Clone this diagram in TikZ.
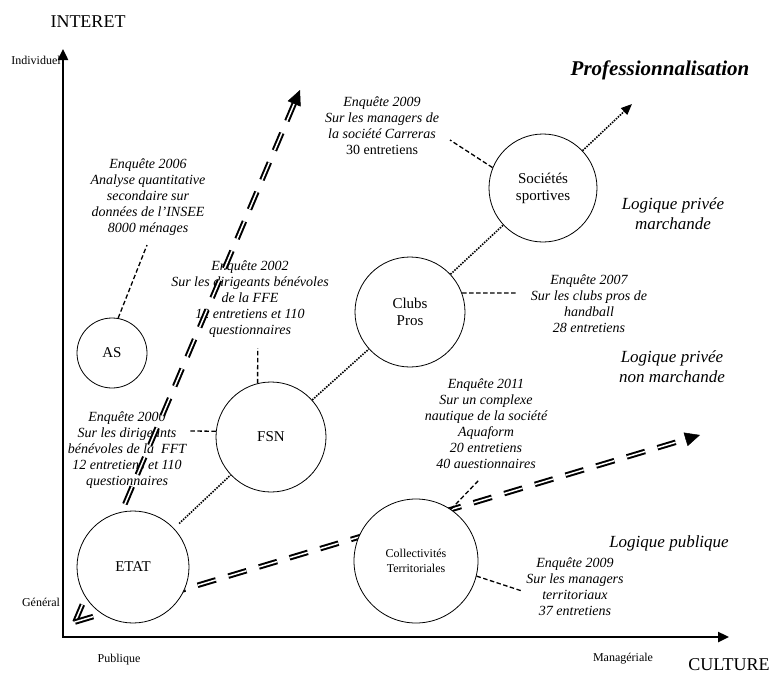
\documentclass[tikz,border=0pt]{standalone}
\usepackage{fontspec}
\setmainfont{Liberation Serif}
\usetikzlibrary{arrows.meta,calc}
\pgfdeclarelayer{txt}
\pgfdeclarelayer{arr}
\pgfsetlayers{txt,arr,main}
\begin{document}
\begin{tikzpicture}[x=1pt,y=-1pt,
 circ/.style={circle,draw,line width=0.8pt,fill=white,inner sep=0pt,align=center,font=\fontsize{15}{17}\selectfont},
 enq/.style={align=center,font=\itshape\fontsize{14}{16}\selectfont,inner sep=0pt},
 logi/.style={align=center,font=\itshape\fontsize{17}{20}\selectfont,inner sep=0pt},
 axlab/.style={font=\fontsize{12}{14}\selectfont,inner sep=0pt},
 axtitle/.style={font=\fontsize{18}{20}\selectfont,inner sep=0pt},
 axisline/.style={line width=2.4pt,{Triangle[length=11pt,width=10pt]}-{Triangle[length=11pt,width=10pt]}},
 dashline/.style={line width=1.3pt,dash pattern=on 4.5pt off 2.5pt},
 dotline/.style={line width=1.6pt,dash pattern=on 1.5pt off 1.2pt},
 dbl/.style={double,line width=2pt,double distance=1.5pt,dash pattern=on 19pt off 13pt},
 bighead/.style={line width=0.5pt,-{Triangle[length=15pt,width=14pt]}},
]
\useasboundingbox (0,0) rectangle (771,675);

% axes
\coordinate (C) at (63,637);
\coordinate (Ytip) at (63,49);
\coordinate (Xtip) at (729,637);
\draw[axisline] (Ytip) -- (C) -- (Xtip);

\node[axtitle] (interet) at (88,22) {INTERET};
\node[axtitle] (culture) at (729,665) {CULTURE};
\node[axlab] (indiv) at (36,60) {Individuel};
\node[axlab] (gen) at (41,602) {Général};
\node[axlab] (pub) at (119,660) {Publique};
\node[axlab] (man) at (623,659) {Managériale};

% texts
\begin{pgfonlayer}{txt}
\node[enq] (t2006) at (148,197) {Enquête 2006\\Analyse quantitative\\secondaire sur\\données de l’INSEE\\8000 ménages};
\node[enq] (t2002) at (250,299) {Enquête 2002\\Sur les dirigeants bénévoles\\de la FFE\\12 entretiens et 110\\questionnaires};
\node[enq] (t2000) at (127,450) {Enquête 2000\\Sur les dirigeants\\bénévoles de la\ \ FFT\\12 entretiens et 110\\questionnaires};
\node[enq] (t2009a) at (382,126) {Enquête 2009\\Sur les managers de\\la société Carreras\\\upshape 30 entretiens};
\node[enq] (t2007) at (589,304) {Enquête 2007\\Sur les clubs pros de\\handball\\28 entretiens};
\node[enq] (t2011) at (486,424) {Enquête 2011\\Sur un complexe\\nautique de la société\\Aquaform\\20 entretiens\\40 auestionnaires};
\node[enq] (t2009b) at (575,587) {Enquête 2009\\Sur les managers\\territoriaux\\37 entretiens};
\node[inner sep=0pt,font=\bfseries\itshape\fontsize{21}{24}\selectfont] (prof) at (660,70) {Professionnalisation};
\node[logi] (lpm) at (673,214) {Logique privée\\marchande};
\node[logi] (lpnm) at (672,367) {Logique privée\\non marchande};
\node[logi] (lp) at (669,543) {Logique publique};
\end{pgfonlayer}

% double dashed arrows
\coordinate (O) at (75,622);
\coordinate (tipV) at (300,90);
\coordinate (tipH) at (700,435);
\begin{pgfonlayer}{arr}
\draw[dbl] (O) -- ($(tipV)!14pt!(O)$);
\draw[bighead] ($(tipV)!15pt!(O)$) -- (tipV);
\draw[dbl] (O) -- ($(tipH)!14pt!(O)$);
\draw[bighead] ($(tipH)!15pt!(O)$) -- (tipH);
\end{pgfonlayer}

% circles
\node[circ,minimum size=70pt] (AS) at (112,353) {AS};
\node[circ,minimum size=110pt] (FSN) at (271,437) {FSN};
\node[circ,minimum size=112pt] (ETAT) at (133,567) {ETAT};
\node[circ,minimum size=110pt] (Clubs) at (410,312) {Clubs\\Pros};
\node[circ,minimum size=108pt] (Soc) at (543,188) {Sociétés\\sportives};
\node[circ,minimum size=124pt,font=\fontsize{12}{15}\selectfont] (Coll) at (416,561) {Collectivités\\Territoriales};

% dotted chain
\coordinate (ptip) at (632,104);
\draw[dotline,shorten <=7pt] (ETAT) -- (FSN);
\draw[dotline] (FSN) -- (Clubs);
\draw[dotline] (Clubs) -- (Soc);
\draw[dotline,-{Triangle[length=11pt,width=9pt]}] (Soc) -- (ptip);

% dashed connectors
\coordinate (e2006) at (147,245);
\coordinate (e2002) at (257.7,348);
\coordinate (e2000) at (188,431);
\coordinate (e2009a) at (450,140);
\coordinate (e2007) at (518,293);
\coordinate (e2011) at (479,480);
\coordinate (e2009b) at (522,591);
\draw[dashline] (AS.80) -- (e2006);
\draw[dashline] (FSN.104) -- (e2002);
\draw[dashline] (FSN.174) -- (e2000);
\draw[dashline] (Soc.158) -- (e2009a);
\draw[dashline] (Clubs.20) -- (e2007);
\draw[dashline] (Coll.56) -- (e2011);
\draw[dashline] (Coll.-14) -- (e2009b);
\end{tikzpicture}
\end{document}
